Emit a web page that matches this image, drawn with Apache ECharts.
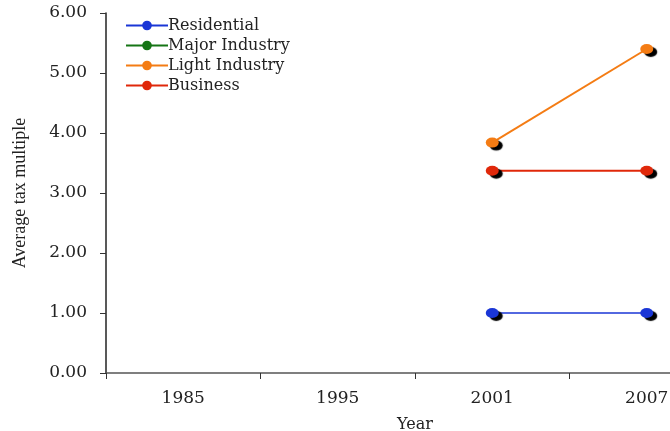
<!DOCTYPE html>
<html><head><meta charset="utf-8">
<script src="https://cdn.jsdelivr.net/npm/echarts@6/dist/echarts.min.js"></script>
<style>html,body{margin:0;padding:0;background:#fff}#c{width:670px;height:431px}</style>
</head><body><div id="c"></div>
<script>
var years = ['1985', '1995', '2001', '2007'];
var residential = [null, null, 1.00, 1.00];
var majorIndustry = [null, null, null, null];
var lightIndustry = [null, null, 3.84, 5.40];
var business = [null, null, 3.37, 3.37];
var yTicks = {min: 0, max: 6, interval: 1};

var F = 'DejaVu Serif';
function mk(name, data, color, lw) {
  return {
    name: name, type: 'line', data: data, symbol: 'circle', symbolSize: [13, 10],
    connectNulls: false,
    lineStyle: {color: color, width: lw},
    itemStyle: {color: color, shadowColor: '#000', shadowBlur: 1, shadowOffsetX: 4, shadowOffsetY: 3},
    emphasis: {disabled: true},
    animation: false
  };
}
var chart = echarts.init(document.getElementById('c'), null, {renderer: 'canvas'});
chart.setOption({
  animation: false,
  grid: {left: 106, top: 13, width: 618, height: 360, containLabel: false, outerBoundsMode: 'none'},
  legend: {
    left: 120, top: 12, orient: 'vertical', itemWidth: 42, itemHeight: 12, itemGap: 3,
    textStyle: {fontFamily: F, fontSize: 16, color: '#222', lineHeight: 17, padding: [0, 0, 0, -5]},
    itemStyle: {shadowColor: 'rgba(0,0,0,0)', shadowBlur: 0, shadowOffsetX: 0, shadowOffsetY: 0},
    data: ['Residential', 'Major Industry', 'Light Industry', 'Business']
  },
  xAxis: {
    type: 'category', data: years, boundaryGap: true,
    name: 'Year', nameLocation: 'middle', nameGap: 44,
    nameTextStyle: {fontFamily: F, fontSize: 16, color: '#222'},
    axisLine: {lineStyle: {color: '#555', width: 1.5}},
    axisTick: {show: true, length: 6, lineStyle: {color: '#333'}},
    axisLabel: {fontFamily: F, fontSize: 17, color: '#222', margin: 17},
    splitLine: {show: false}
  },
  yAxis: {
    type: 'value', min: yTicks.min, max: yTicks.max, interval: yTicks.interval,
    name: 'Average tax multiple', nameLocation: 'middle', nameGap: 77, nameRotate: 90,
    nameTextStyle: {fontFamily: 'Liberation Serif', fontSize: 18, color: '#222'},
    axisLine: {show: true, lineStyle: {color: '#222', width: 1.5}},
    axisTick: {show: true, length: 6, lineStyle: {color: '#333'}},
    axisLabel: {fontFamily: F, fontSize: 17, color: '#222', margin: 19,
      formatter: function (v) { return v.toFixed(2); }},
    splitLine: {show: false}
  },
  series: [
    mk('Residential', residential, '#1a36d6', 1.5),
    mk('Major Industry', majorIndustry, '#157515', 2),
    mk('Light Industry', lightIndustry, '#f47c14', 2),
    mk('Business', business, '#e0280a', 2)
  ]
});
</script></body></html>
